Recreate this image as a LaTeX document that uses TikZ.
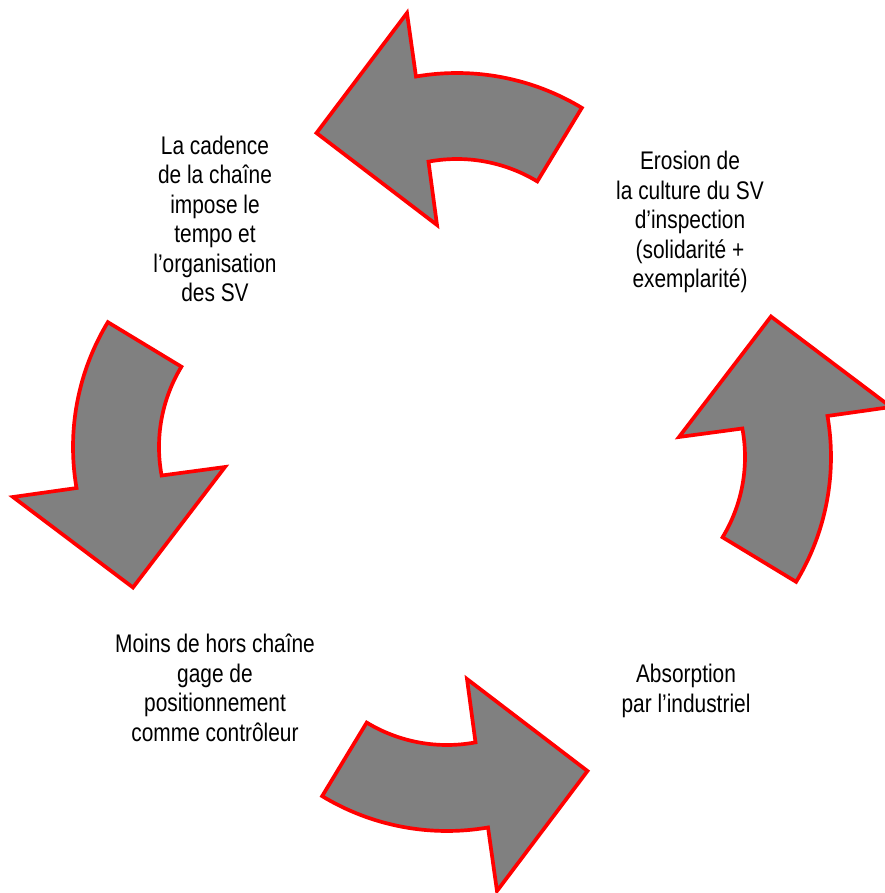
\documentclass[tikz,border=0pt]{standalone}
\usepackage{fontspec}
\setmainfont{Liberation Sans}[FakeStretch=0.82]
\usetikzlibrary{calc}
\tikzset{
    cyclearrow/.style={fill=gray, draw=red, line width=2.1pt, line join=miter},
    steptext/.style={align=center, font=\fontsize{14.5}{16.8}\selectfont},
}

\begin{document}
\begin{tikzpicture}[x=0.2mm, y=0.2mm]
        \useasboundingbox (-452,-441) rectangle (433,452);

        % Draw the four curved arrows of the cycle
        \foreach \ang in {0,90,180,270} {
            \begin{scope}[rotate=\ang]
                \draw[cyclearrow] ($(138,-5)+(-31.2:155)$) arc[start angle=-31.2, end angle=10.6, radius=155]
                    -- (227,15) -- (319,135.5) -- (439,45) -- ($(138,-5)+(9.8:241)$)
                    arc[start angle=9.8, end angle=-31.2, radius=241] -- cycle;
            \end{scope}
        }

        % Draw the texts between the arrows
        \node[steptext] (cadence) at (-237,233) {La cadence\\de la chaîne\\impose le\\tempo et\\l’organisation\\des SV};
        \node[steptext] (erosion) at (238,230) {Erosion de\\la culture du SV\\d’inspection\\(solidarité +\\exemplarité)};
        \node[steptext] (moins) at (-237,-236) {Moins de hors chaîne\\gage de\\positionnement\\comme contrôleur};
        \node[steptext] (absorption) at (234,-239) {Absorption\\par l’industriel};
    \end{tikzpicture}
\end{document}
